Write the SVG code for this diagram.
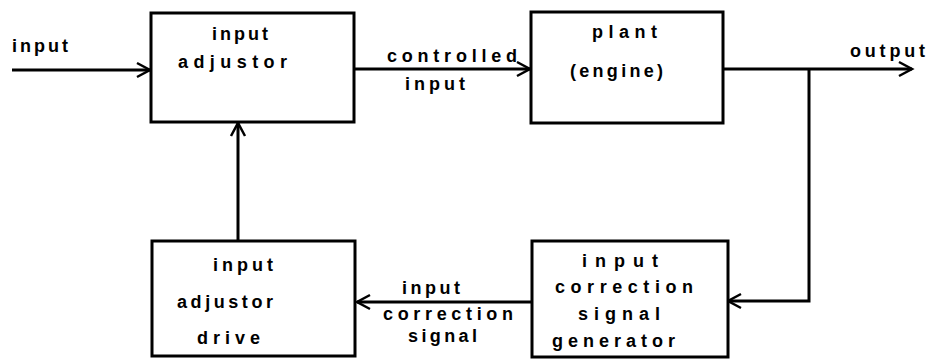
<svg xmlns="http://www.w3.org/2000/svg" width="935" height="360" viewBox="0 0 935 360">
  <style>
    .box { fill: #ffffff; stroke: #000000; stroke-width: 3; }
    .wire { fill: none; stroke: #000000; stroke-width: 3; }
    .lbl { font-family: "Liberation Sans", Arial, sans-serif; font-size: 18px; font-weight: bold; fill: #000000; }
  </style>
  <defs>
    <!-- open chevron arrowhead -->
    <marker id="arrow" markerUnits="userSpaceOnUse" markerWidth="20" markerHeight="20" refX="14" refY="8" orient="auto" overflow="visible">
      <path d="M1,1 L14,8 L1,15" fill="none" stroke="#000000" stroke-width="2.5"/>
    </marker>
  </defs>

  <!-- connectors -->
  <g id="connectors">
    <path class="wire" d="M12,70 H150" marker-end="url(#arrow)"/>
    <path class="wire" d="M354,69 H530" marker-end="url(#arrow)"/>
    <path class="wire" d="M723,69 H912" marker-end="url(#arrow)"/>
    <path class="wire" d="M809,69 V301 H728" marker-end="url(#arrow)"/>
    <path class="wire" d="M532,302 H357" marker-end="url(#arrow)"/>
    <path class="wire" d="M238,241 V123" marker-end="url(#arrow)"/>
    <text class="lbl" x="12" y="52" textLength="56" lengthAdjust="spacing">input</text>
    <text class="lbl" x="387" y="62" textLength="130" lengthAdjust="spacing">controlled</text>
    <text class="lbl" x="405" y="90" textLength="60" lengthAdjust="spacing">input</text>
    <text class="lbl" x="850" y="57" textLength="75" lengthAdjust="spacing">output</text>
    <text class="lbl" x="402" y="294" textLength="58" lengthAdjust="spacing">input</text>
    <text class="lbl" x="383" y="320" textLength="130" lengthAdjust="spacing">correction</text>
    <text class="lbl" x="408" y="342" textLength="69" lengthAdjust="spacing">signal</text>
  </g>

  <g id="input-adjustor">
    <rect class="box" x="151" y="13" width="203" height="109"/>
    <text class="lbl" x="212" y="40" textLength="56" lengthAdjust="spacing">input</text>
    <text class="lbl" x="178" y="68" textLength="109" lengthAdjust="spacing">adjustor</text>
  </g>

  <g id="plant">
    <rect class="box" x="531" y="12" width="192" height="111"/>
    <text class="lbl" x="592" y="38" textLength="65" lengthAdjust="spacing">plant</text>
    <text class="lbl" x="570" y="77" textLength="93" lengthAdjust="spacing">(engine)</text>
  </g>

  <g id="input-adjustor-drive">
    <rect class="box" x="152" y="241" width="203" height="115"/>
    <text class="lbl" x="213" y="271" textLength="60" lengthAdjust="spacing">input</text>
    <text class="lbl" x="177" y="308" textLength="96" lengthAdjust="spacing">adjustor</text>
    <text class="lbl" x="197" y="344" textLength="63" lengthAdjust="spacing">drive</text>
  </g>

  <g id="correction-signal-generator">
    <rect class="box" x="532" y="241" width="196" height="116"/>
    <text class="lbl" x="582" y="267" textLength="76" lengthAdjust="spacing">input</text>
    <text class="lbl" x="555" y="293" textLength="138" lengthAdjust="spacing">correction</text>
    <text class="lbl" x="578" y="320" textLength="82" lengthAdjust="spacing">signal</text>
    <text class="lbl" x="552" y="347" textLength="123" lengthAdjust="spacing">generator</text>
  </g>
</svg>
